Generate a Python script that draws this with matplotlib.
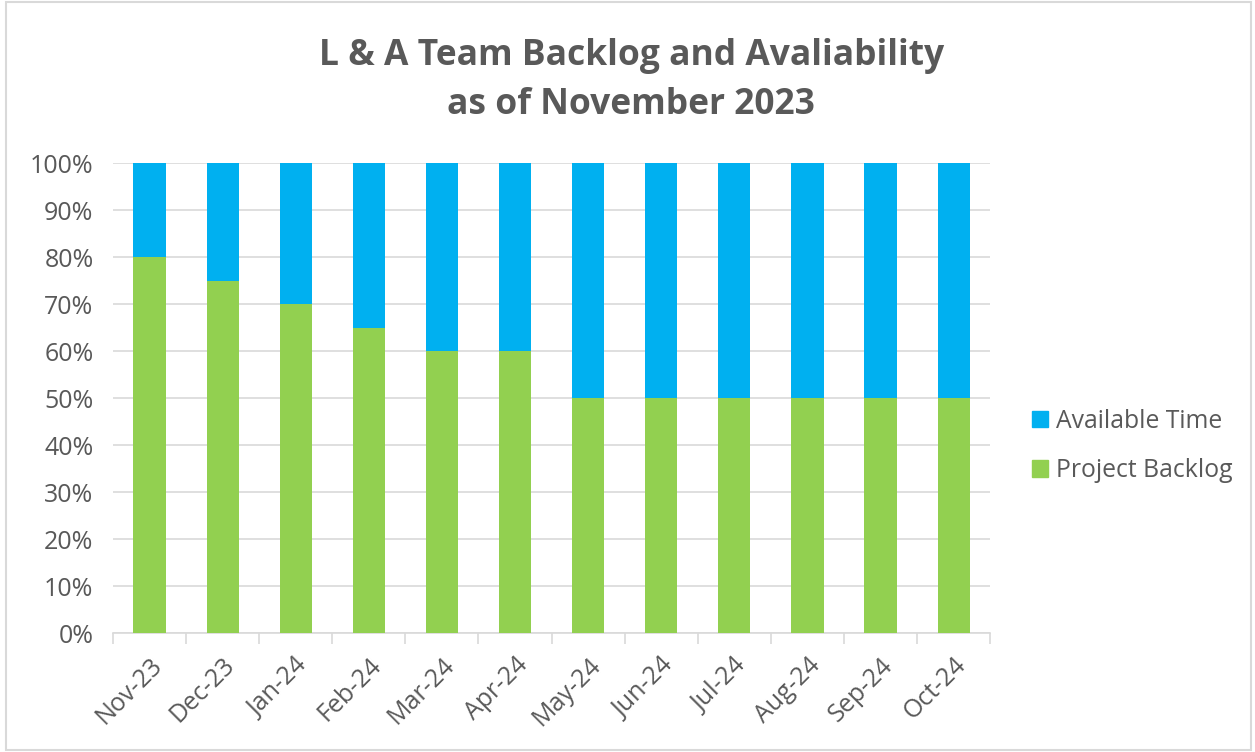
import matplotlib.pyplot as plt
import numpy as np
from matplotlib.patches import Rectangle, Patch
from matplotlib.ticker import PercentFormatter

months = ["Nov-23", "Dec-23", "Jan-24", "Feb-24", "Mar-24", "Apr-24",
          "May-24", "Jun-24", "Jul-24", "Aug-24", "Sep-24", "Oct-24"]
project_backlog = [80, 75, 70, 65, 60, 60, 50, 50, 50, 50, 50, 50]
available_time = [20, 25, 30, 35, 40, 40, 50, 50, 50, 50, 50, 50]

GREEN = "#92D050"
BLUE = "#00B0F0"
TEXT = "#595959"
GRID = "#D9D9D9"

plt.rcParams["font.family"] = ["Open Sans", "DejaVu Sans"]

fig = plt.figure(figsize=(12.55, 7.52), dpi=100)
ax = fig.add_axes([0.090, 0.158, 0.699, 0.625])

x = np.arange(len(months))
ax.bar(x, project_backlog, width=0.44, color=GREEN, zorder=3)
ax.bar(x, available_time, width=0.44, bottom=project_backlog, color=BLUE, zorder=3)

ax.set_xlim(-0.5, len(months) - 0.5)
ax.set_ylim(0, 100)
ax.set_yticks(np.arange(0, 101, 10))
ax.yaxis.set_major_formatter(PercentFormatter(decimals=0))
ax.grid(axis="y", color=GRID, linewidth=1.2, zorder=0)

ax.set_xticks(x)
ax.set_xticklabels(months, rotation=45, ha="right", rotation_mode="anchor")
ax.set_xticks(np.arange(-0.5, len(months)), minor=True)
ax.tick_params(axis="x", which="major", length=0, pad=14, labelsize=18, labelcolor=TEXT)
ax.tick_params(axis="x", which="minor", length=8, width=1.2, color=GRID)
ax.tick_params(axis="y", length=0, pad=14, labelsize=18, labelcolor=TEXT)

for side in ["top", "right", "left"]:
    ax.spines[side].set_visible(False)
ax.spines["bottom"].set_color(GRID)
ax.spines["bottom"].set_linewidth(1.2)

fig.text(0.503, 0.893, "L & A Team Backlog and Avaliability\nas of November 2023",
         ha="center", va="center", fontsize=25.5, fontweight="bold", color=TEXT,
         linespacing=1.45)

handles = [Patch(color=BLUE, label="Available Time"),
           Patch(color=GREEN, label="Project Backlog")]
fig.legend(handles=handles, loc="center left", bbox_to_anchor=(0.822, 0.407),
           frameon=False, fontsize=17.8, labelcolor=TEXT, handlelength=0.65,
           handleheight=0.65, handletextpad=0.35, labelspacing=1.0,
           borderpad=0, borderaxespad=0)

fig.patches.append(Rectangle((0.005, 0.003), 0.992, 0.994, transform=fig.transFigure,
                             fill=False, edgecolor=GRID, linewidth=1.5))

fig.savefig("out.png", dpi=100)
